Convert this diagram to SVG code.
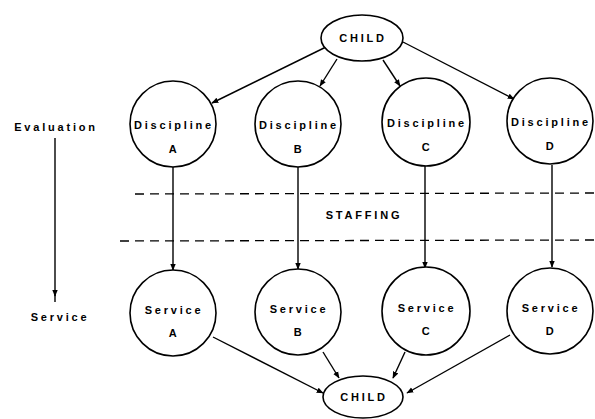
<svg xmlns="http://www.w3.org/2000/svg" width="595" height="419" viewBox="0 0 595 419">
<style>
.n{fill:#fff;stroke:#000;stroke-width:1.6}
.t{font-family:"Liberation Sans",Arial,sans-serif;font-size:11px;font-weight:bold;fill:#000;text-anchor:middle;letter-spacing:2.8px}
.c{stroke:#000;stroke-width:1.4;fill:none}
.d{stroke:#000;stroke-width:1.3;fill:none;stroke-dasharray:9 6}
</style>
<defs>
<marker id="a" viewBox="0 0 10 10" refX="9" refY="5" markerWidth="7" markerHeight="7" orient="auto" markerUnits="userSpaceOnUse">
<path d="M0,1 L10,5 L0,9 Z" fill="#000"/>
</marker>
</defs>
<rect width="595" height="419" fill="#fff"/>
<g id="connectors">
<line class="c" x1="326" y1="47" x2="212" y2="103" marker-end="url(#a)"/>
<line class="c" x1="337" y1="59" x2="320" y2="86" marker-end="url(#a)"/>
<line class="c" x1="383" y1="60" x2="400" y2="86" marker-end="url(#a)"/>
<line class="c" x1="403" y1="42" x2="514" y2="99" marker-end="url(#a)"/>
<line class="c" x1="173" y1="167" x2="173" y2="270" marker-end="url(#a)"/>
<line class="c" x1="298" y1="167" x2="298" y2="269" marker-end="url(#a)"/>
<line class="c" x1="425" y1="166" x2="425" y2="268" marker-end="url(#a)"/>
<line class="c" x1="552" y1="165" x2="552" y2="267" marker-end="url(#a)"/>
<line class="c" x1="213" y1="337" x2="323" y2="393" marker-end="url(#a)"/>
<line class="c" x1="323" y1="352" x2="339" y2="378" marker-end="url(#a)"/>
<line class="c" x1="405" y1="352" x2="393" y2="378" marker-end="url(#a)"/>
<line class="c" x1="510" y1="335" x2="407" y2="393" marker-end="url(#a)"/>
<line class="c" x1="55" y1="138" x2="55" y2="296" marker-end="url(#a)"/>
<line class="c" x1="55" y1="292" x2="55" y2="302"/>
</g>
<g id="staffing-band">
<line class="d" x1="135" y1="194" x2="595" y2="193"/>
<line class="d" x1="120" y1="241" x2="595" y2="240"/>
<text class="t" x="364" y="219">STAFFING</text>
</g>
<g id="axis-labels">
<text class="t" x="56" y="131">Evaluation</text>
<text class="t" x="60" y="321">Service</text>
</g>
<g id="child-top">
<ellipse class="n" cx="362" cy="38" rx="41" ry="23"/>
<text class="t" x="363" y="42">CHILD</text>
</g>
<g id="disc-a">
<circle class="n" cx="173" cy="124" r="43"/>
<text class="t" x="174" y="129">Discipline</text>
<text class="t" x="174" y="153">A</text>
</g>
<g id="disc-b">
<circle class="n" cx="298" cy="124" r="43"/>
<text class="t" x="299" y="129">Discipline</text>
<text class="t" x="299" y="153">B</text>
</g>
<g id="disc-c">
<circle class="n" cx="426" cy="122" r="44"/>
<text class="t" x="427" y="127">Discipline</text>
<text class="t" x="427" y="151">C</text>
</g>
<g id="disc-d">
<circle class="n" cx="550" cy="121" r="43"/>
<text class="t" x="551" y="126">Discipline</text>
<text class="t" x="551" y="150">D</text>
</g>
<g id="serv-a">
<circle class="n" cx="173" cy="313" r="43"/>
<text class="t" x="174" y="314">Service</text>
<text class="t" x="174" y="337">A</text>
</g>
<g id="serv-b">
<circle class="n" cx="298" cy="312" r="43"/>
<text class="t" x="299" y="313">Service</text>
<text class="t" x="299" y="336">B</text>
</g>
<g id="serv-c">
<circle class="n" cx="426" cy="311" r="44"/>
<text class="t" x="427" y="312">Service</text>
<text class="t" x="427" y="335">C</text>
</g>
<g id="serv-d">
<circle class="n" cx="550" cy="311" r="43"/>
<text class="t" x="551" y="312">Service</text>
<text class="t" x="551" y="335">D</text>
</g>
<g id="child-bottom">
<ellipse class="n" cx="363" cy="397" rx="40" ry="21"/>
<text class="t" x="364" y="401">CHILD</text>
</g>
</svg>
